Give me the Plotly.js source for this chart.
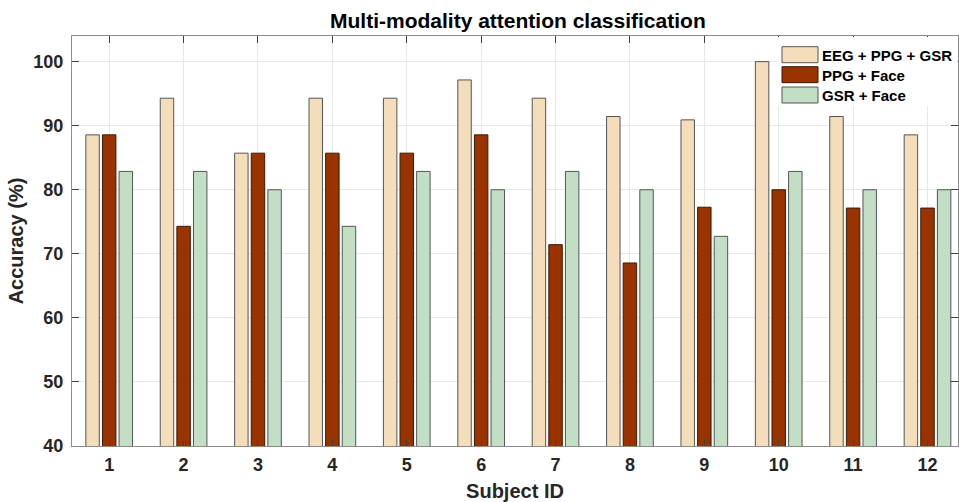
<!DOCTYPE html>
<html>
<head>
<meta charset="utf-8">
<script src="https://cdn.plot.ly/plotly-3.0.1.min.js"></script>
<style>html,body{margin:0;padding:0;background:#fff;}#chart{width:959px;height:502px;}</style>
</head>
<body>
<div id="chart"></div>
<script>
const subjects = [1, 2, 3, 4, 5, 6, 7, 8, 9, 10, 11, 12];
const seriesNames = ["EEG + PPG + GSR", "PPG + Face", "GSR + Face"];
const eegPpgGsr = [88.57, 94.29, 85.71, 94.29, 94.29, 97.14, 94.29, 91.43, 90.91, 100, 91.43, 88.57];
const ppgFace   = [88.57, 74.29, 85.71, 85.71, 85.71, 88.57, 71.43, 68.57, 77.27, 80, 77.14, 77.14];
const gsrFace   = [82.86, 82.86, 80, 74.29, 82.86, 80, 82.86, 80, 72.73, 82.86, 80, 80];
const yTicks = [40, 50, 60, 70, 80, 90, 100];
const colors = ["#F3DDBA", "#993300", "#C2DFC6"];
const edges = ["#555555", "#3a1a08", "#555555"];

const FONT = "Liberation Sans, Arial, Helvetica, sans-serif";
const allSeries = [eegPpgGsr, ppgFace, gsrFace];
const traces = allSeries.map((vals, i) => ({
  type: "bar",
  name: seriesNames[i],
  x: subjects,
  y: vals,
  marker: {color: colors[i], line: {color: edges[i], width: 1}},
  showlegend: false,
  hoverinfo: "x+y+name"
}));

// custom legend (swatches + labels) in paper coords
const L = 72, R = 958, T = 36, B = 446;
const px = x => (x - L) / (R - L);
const py = y => (B - y) / (B - T);
const shapes = [{
  type: "rect", xref: "paper", yref: "paper", layer: "above",
  x0: px(778), x1: px(957.5), y0: py(106), y1: py(37),
  fillcolor: "#ffffff", line: {width: 0}
}];
const annotations = [];
const rowY = [54.7, 74.7, 95];
seriesNames.forEach((n, i) => {
  shapes.push({
    type: "rect", xref: "paper", yref: "paper", layer: "above",
    x0: px(782), x1: px(818), y0: py(rowY[i] + 8), y1: py(rowY[i] - 8),
    fillcolor: colors[i], line: {color: edges[i], width: 1}
  });
  annotations.push({
    xref: "paper", yref: "paper", x: px(820), y: py(rowY[i] + 0.5),
    xanchor: "left", yanchor: "middle", showarrow: false,
    text: "<b>" + n + "</b>", font: {family: FONT, size: 15, color: "#000000"}
  });
});

const layout = {
  width: 959, height: 502,
  margin: {l: L, r: 959 - R, t: T, b: 502 - B, pad: 0},
  paper_bgcolor: "#ffffff", plot_bgcolor: "#ffffff",
  barmode: "group", bargap: 0.33, bargroupgap: 0.19,
  title: {text: "<b>Multi-modality attention classification</b>", font: {family: FONT, size: 21, color: "#000000"},
          x: 0.54, xanchor: "center", y: 1 - 21 / 502, yanchor: "middle", yref: "container"},
  xaxis: {
    range: [0.5, 12.41], tickvals: subjects, ticktext: subjects.map(String),
    showgrid: true, gridcolor: "#e8e8e8", gridwidth: 1,
    showline: true, linecolor: "#8c8c8c", linewidth: 1, mirror: "ticks",
    ticks: "inside", ticklen: 7, tickcolor: "#404040", tickwidth: 1,
    ticklabelstandoff: 2,
    tickfont: {family: FONT, size: 18, color: "#262626", weight: "bold"},
    zeroline: false,
    title: {text: "<b>Subject ID</b>", font: {family: FONT, size: 20, color: "#262626"}, standoff: 11}
  },
  yaxis: {
    range: [40, 104], tickvals: yTicks,
    showgrid: true, gridcolor: "#e8e8e8", gridwidth: 1,
    showline: true, linecolor: "#8c8c8c", linewidth: 1, mirror: "ticks",
    ticks: "inside", ticklen: 7, tickcolor: "#404040", tickwidth: 1,
    ticklabelstandoff: 4,
    tickfont: {family: FONT, size: 18, color: "#262626", weight: "bold"},
    zeroline: false,
    title: {text: "<b>Accuracy (%)</b>", font: {family: FONT, size: 20, color: "#262626"}, standoff: 4}
  },
  shapes: shapes,
  annotations: annotations,
  showlegend: false
};

Plotly.newPlot("chart", traces, layout, {displayModeBar: false, staticPlot: true});
</script>
</body>
</html>
